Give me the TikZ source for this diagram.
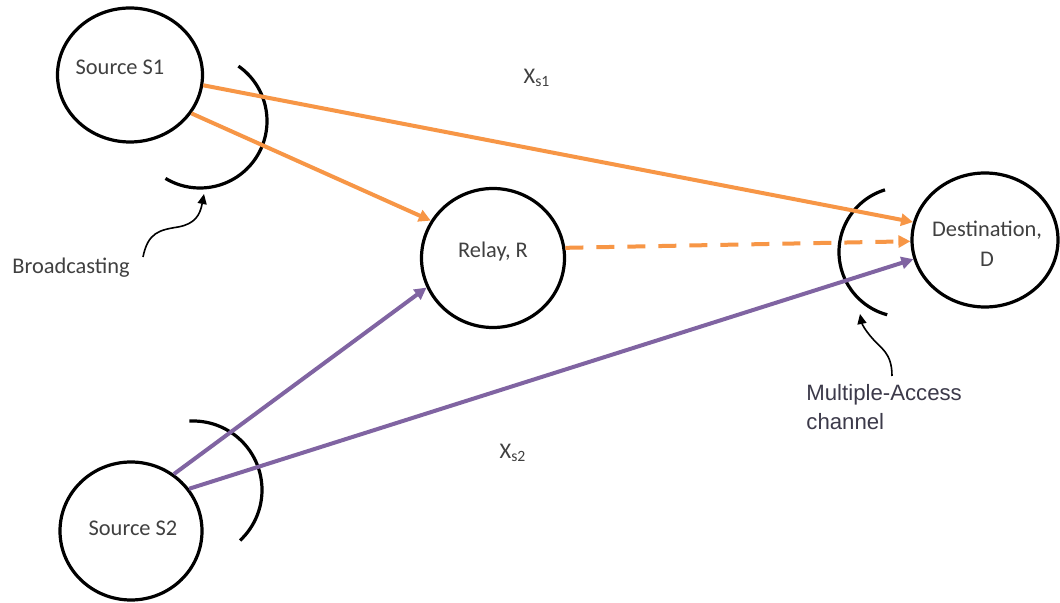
\documentclass[tikz,border=0pt]{standalone}
\usepackage{fontspec}
\setmainfont{Carlito}
\newfontfamily\arialf{Liberation Sans}
\usetikzlibrary{shapes.geometric,arrows.meta}
\definecolor{orng}{HTML}{F79646}
\definecolor{purp}{HTML}{8064A2}
\definecolor{txtc}{HTML}{404040}
\definecolor{matxt}{HTML}{3C3A4A}
\begin{document}
\begin{tikzpicture}[x=0.5pt,y=-0.5pt,
  blob/.style={draw=black,line width=1.6pt,ellipse,inner sep=0pt,fill=white},
  txt/.style={text=txtc,font=\fontsize{11.2}{15}\selectfont,align=center,inner sep=0pt},
  olink/.style={draw=orng,line width=2pt,-{Triangle[length=6pt,width=6pt]}},
  plink/.style={draw=purp,line width=2pt,-{Triangle[length=6pt,width=6pt]}},
  dlink/.style={olink,dash pattern=on 9pt off 6.5pt},
  wave/.style={draw=black,line width=1.6pt},
  pointer/.style={draw=black,line width=0.8pt,-{Triangle[length=5pt,width=4.5pt]}}]
\useasboundingbox (0,0) rectangle (1060,603);
\fill[white] (0,0) rectangle (1060,603);
% nodes
\node[blob,minimum width=72.5pt,minimum height=67pt] (s1) at (130,75) {};
\node[blob,minimum width=71.5pt,minimum height=69.5pt] (relay) at (493,258) {};
\node[blob,minimum width=73pt,minimum height=67pt] (d) at (985,240) {};
\node[blob,minimum width=71pt,minimum height=69pt] (s2) at (131,531) {};
\node[txt] (s1t) at (120,67) {Source S1};
\node[txt] (relayt) at (493,252) {Relay, R};
\node[txt] (dt) at (987,244) {Destination,\\D};
\node[txt] (s2t) at (133,528) {Source S2};
% arcs
\draw[wave] ([shift={(55:33.5pt)}]200,121) arc[start angle=55,end angle=-121,radius=33.5pt];
\draw[wave] ([shift={(107:32.5pt)}]904,252) arc[start angle=107,end angle=255,radius=32.5pt];
\draw[wave] ([shift={(93:34.5pt)}]193,490) arc[start angle=93,end angle=-47,radius=34.5pt];
% links
\draw[olink] (s1.-8) -- (d.166.5);
\draw[olink] (s1.-32) -- (relay.149);
\draw[dlink] (relay.8) -- (d.181.5);
\draw[plink] (s2.53) -- (relay.204);
\draw[plink] (s2.36.7) -- (d.195);
% labels
\node[txt] (xs1) at (537,78) {X\textsubscript{s1}};
\node[txt] (xs2) at (513,453) {X\textsubscript{s2}};
\node[txt,anchor=west] (bc) at (12,268) {Broadcasting};
\node[text=matxt,font=\arialf\fontsize{11.1}{14.5}\selectfont,align=left,anchor=north west,inner sep=0pt] (ma) at (806,384) {Multiple-Access\\channel};
\coordinate (bcs) at (143,257);
\coordinate (bct) at (204,194);
\coordinate (mas) at (892,376);
\coordinate (mat) at (860,314);
\draw[pointer] (bcs) .. controls (148,232) and (160,230) .. (178,227) .. controls (195,224) and (200,215) .. (bct);
\draw[pointer] (mas) .. controls (892,352) and (880,348) .. (872,338) .. controls (865,330) and (862,324) .. (mat);
\end{tikzpicture}
\end{document}
